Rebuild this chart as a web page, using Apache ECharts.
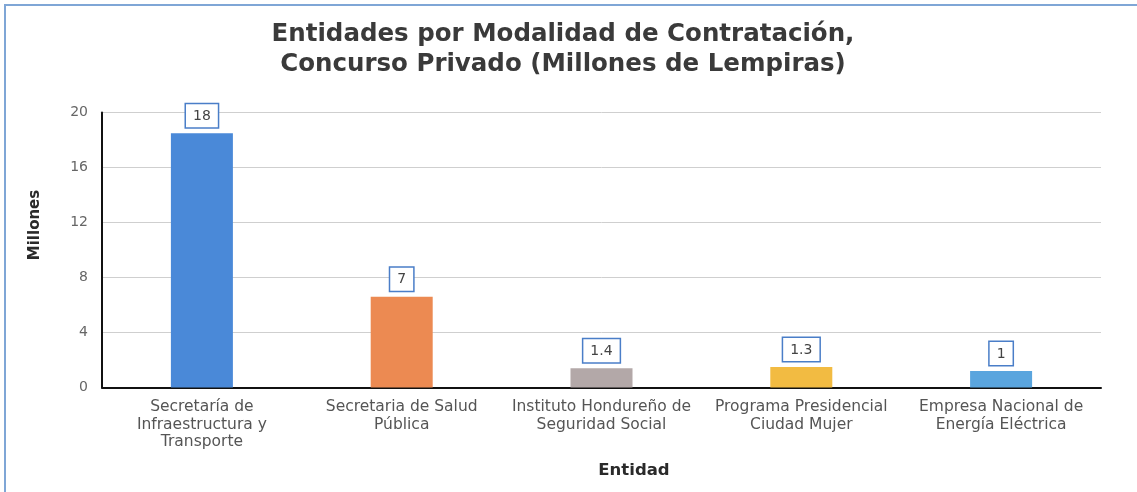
<!DOCTYPE html>
<html><head><meta charset="utf-8">
<script src="https://cdn.jsdelivr.net/npm/echarts@6/dist/echarts.min.js"></script>
<style>html,body{margin:0;padding:0;background:#fff}#c{width:1137px;height:492px}</style>
</head><body><div id="c"></div>
<script>
const categories = [
  "Secretaría de\nInfraestructura y\nTransporte",
  "Secretaria de Salud\nPública",
  "Instituto Hondureño de\nSeguridad Social",
  "Programa Presidencial\nCiudad Mujer",
  "Empresa Nacional de\nEnergía Eléctrica"
];
const values = [18.5, 6.6, 1.4, 1.5, 1.2];
const labelTexts = ["18", "7", "1.4", "1.3", "1"];
const barColors = ["#4a89d8", "#ec8a52", "#b3a8a8", "#f2bb42", "#5aa5de"];
const yTicks = [0, 4, 8, 12, 16, 20];
const FONT = "DejaVu Sans";

const chart = echarts.init(document.getElementById('c'));
chart.setOption({
  backgroundColor: '#fff',
  animation: false,
  title: {
    text: 'Entidades por Modalidad de Contratación,\nConcurso Privado (Millones de Lempiras)',
    left: 558, top: 15, textAlign: 'center',
    textStyle: { fontFamily: FONT, fontSize: 24.5, fontWeight: 'bold', color: '#3a3a3a', lineHeight: 30 }
  },
  graphic: [
    { type: 'rect', shape: { x: 5, y: 5, width: 1300, height: 700 }, style: { fill: 'none', stroke: '#7fa6d6', lineWidth: 2 }, silent: true },
    { type: 'text', x: 634, y: 471, style: { text: 'Entidad', font: 'bold 16.5px ' + FONT, fill: '#2a2a2a', textAlign: 'center', textVerticalAlign: 'middle' } },
    { type: 'text', x: 35, y: 225, rotation: Math.PI / 2, style: { text: 'Millones', font: 'bold 15px ' + FONT, fill: '#2a2a2a', textAlign: 'center', textVerticalAlign: 'middle' } }
  ],
  grid: { left: 102, right: 36, top: 112.5, bottom: 104.5 },
  xAxis: {
    type: 'category', data: categories,
    axisLine: { lineStyle: { color: '#111', width: 2 } },
    axisTick: { show: false },
    axisLabel: { interval: 0, color: '#555', fontFamily: FONT, fontSize: 15.5, lineHeight: 17.5, margin: 11 }
  },
  yAxis: {
    type: 'value', min: yTicks[0], max: yTicks[yTicks.length - 1], interval: 4,
    axisLine: { show: true, lineStyle: { color: '#111', width: 2 } },
    axisTick: { show: false },
    axisLabel: { color: '#666', fontFamily: FONT, fontSize: 14, margin: 14 },
    splitLine: { lineStyle: { color: '#cfcfcf', width: 1 } }
  },
  series: [{
    type: 'bar', barWidth: 62,
    data: values.map((v, i) => ({ value: v, itemStyle: { color: barColors[i] } })),
    label: {
      show: true, position: 'top', distance: 6,
      formatter: p => labelTexts[p.dataIndex],
      color: '#444', fontFamily: FONT, fontSize: 14,
      backgroundColor: '#fff', borderColor: '#4a7ec8', borderWidth: 1.5,
      padding: [5, 7, 4, 7]
    }
  }]
});
</script></body></html>
